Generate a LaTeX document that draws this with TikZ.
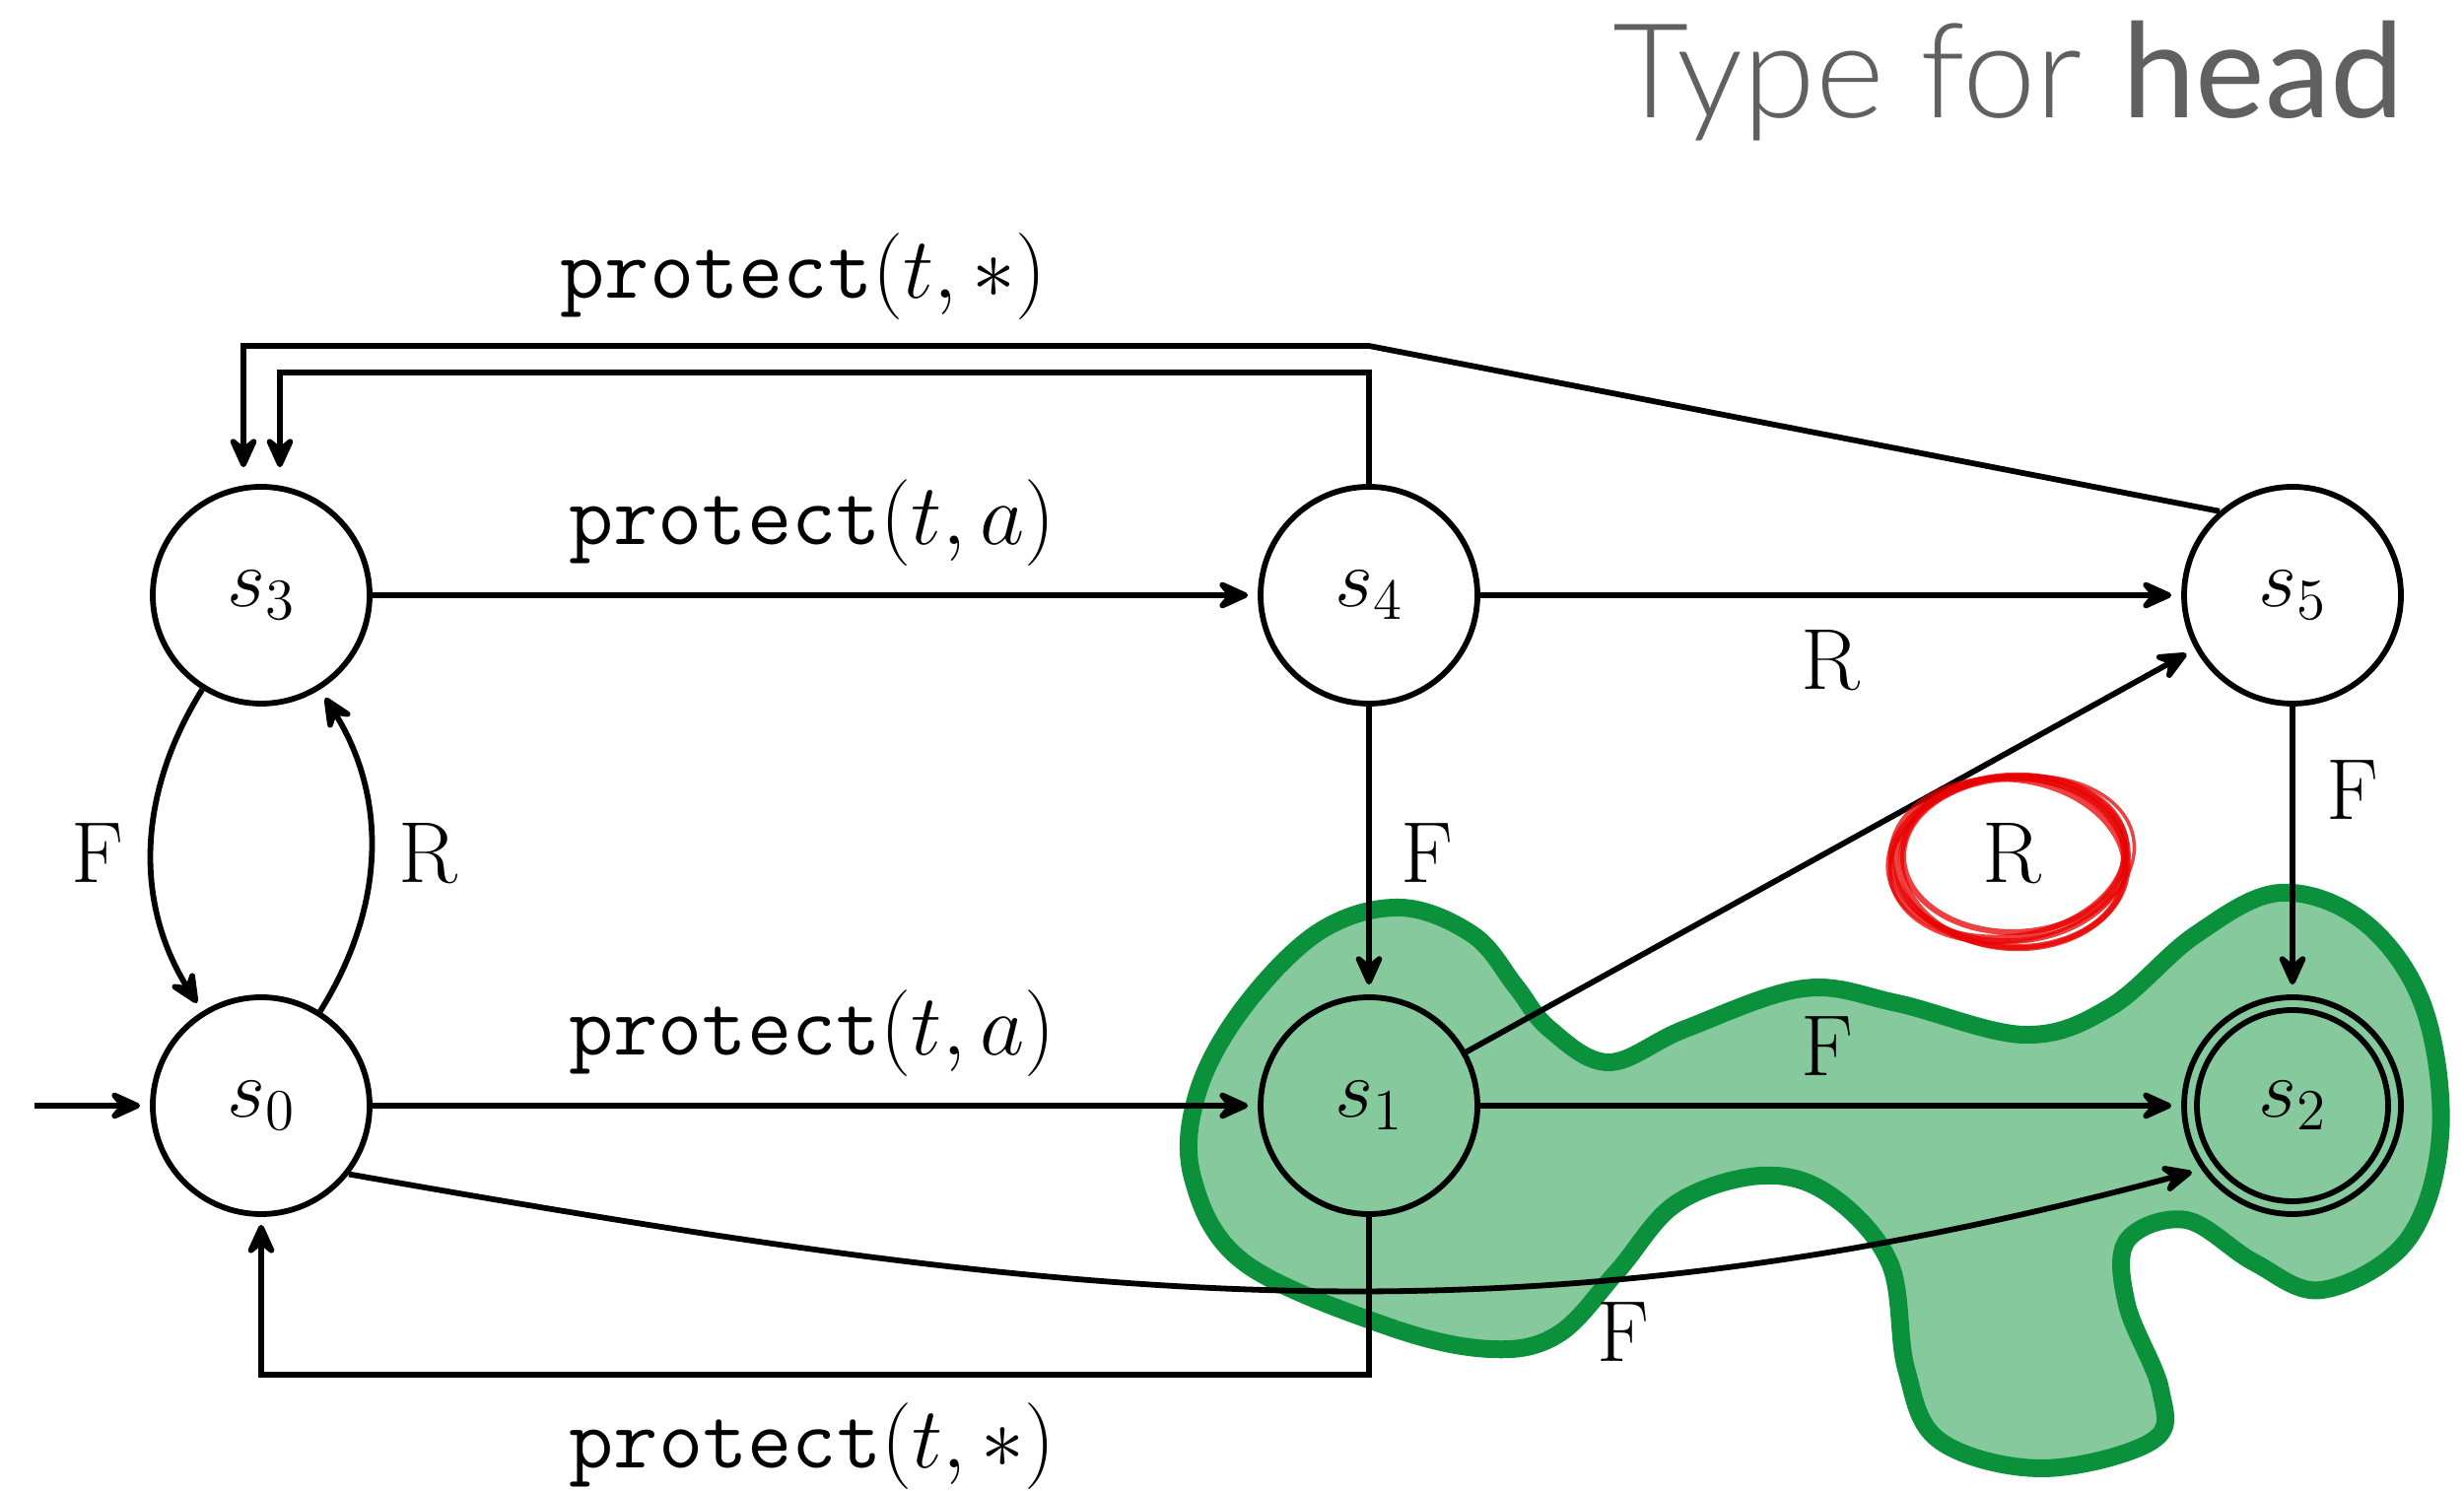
\RequirePackage{fix-cm}
\documentclass[tikz,border=0pt]{standalone}
\usepackage{fontspec}
\usetikzlibrary{arrows.meta,calc}
\newfontfamily\tlight{Lato Light}
\newfontfamily\tbold{Lato}
\definecolor{gfill}{RGB}{133,201,156}
\definecolor{gline}{RGB}{11,145,60}
\definecolor{redc}{RGB}{232,0,0}
\definecolor{tgray}{RGB}{96,96,96}
\begin{document}
\begin{tikzpicture}[
  state/.style={circle, draw, line width=0.058cm, minimum size=2.2cm, inner sep=0pt, font=\fontsize{24}{29}\selectfont},
  conn/.style={line width=0.058cm, -{Stealth[length=0.4cm,width=0.36cm,inset=0.15cm,round]}, shorten >=0.1cm},
  lbl/.style={font=\fontsize{25}{30}\selectfont, inner sep=0pt},
  redring/.style={draw=redc, line width=0.06cm, opacity=0.75},
]
\useasboundingbox (0,0) rectangle (25,15.13);

% title
\node[anchor=base east, text=tgray, inner sep=0pt, font=\fontsize{38}{44}\selectfont] (title) at (24.40,13.93) {{\tlight Type for} {\tbold head}};

% green blob
\filldraw[fill=gfill, draw=gline, line width=0.18cm] plot[smooth cycle, tension=0.6] coordinates {
 (14.21,5.92) (14.95,5.64) (15.38,5.12) (15.72,4.69) (16.32,4.35) (17.10,4.69) (18.30,5.10)
 (19.25,4.95) (20.54,4.63) (21.41,4.91) (22.27,5.64) (23.13,6.07) (23.99,5.77) (24.59,4.91)
 (24.76,3.61) (24.42,2.54) (23.56,2.04) (22.87,2.32) (22.18,2.75) (21.58,2.54) (21.58,1.89)
 (21.92,1.03) (21.84,0.51) (20.72,0.23) (19.68,0.51) (19.34,1.24) (19.17,2.32) (18.56,3.01)
 (17.87,3.20) (17.01,2.92) (16.41,2.23) (15.81,1.59) (15.12,1.44) (14.08,1.67) (12.62,2.32)
 (12.10,3.18) (12.15,4.04) (12.62,4.91) (13.39,5.68)};

% states
\node[state] (s3) at (2.65,9.09) {$s_3$};
\node[state] (s4) at (13.89,9.09) {$s_4$};
\node[state] (s5) at (23.26,9.09) {$s_5$};
\node[state] (s0) at (2.65,3.91) {$s_0$};
\node[state] (s1) at (13.89,3.91) {$s_1$};
\node[state] (s2) at (23.26,3.91) {$s_2$};
\draw[line width=0.058cm] (s2.center) circle (0.97cm);

% helper coordinates
\coordinate (init) at (0.35,3.91);
\coordinate (k1) at (13.89,11.62);
\coordinate (k2) at (2.47,11.62);
\coordinate (k3) at (2.84,11.35);
\coordinate (k4) at (2.65,1.18);

% edges
\draw[conn] (init) -- (s0);
\draw[conn] (s3) -- (s4);
\draw[conn] (s4) -- (s5);
\draw[conn] (s0) -- (s1);
\draw[conn] (s1) -- (s2);
\draw[conn] (s4) -- (s1);
\draw[conn] (s5) -- (s2);
\draw[conn] (s1) -- (s5);
\draw[conn] (s3) to[bend right=32] (s0);
\draw[conn] (s0) to[bend right=32] (s3);
\draw[conn] (s0.-38) to[out=-10,in=-165] (s2.-145);
\draw[conn, shorten >=0.17cm] (s4.north) |- (k3) -- (k3 |- s3.north);
\draw[conn, shorten >=0.17cm] (s5.131) -- (k1) -- (k2) -- (k2 |- s3.north);
\draw[conn, shorten >=0.08cm] (s1.south) |- (k4) -- (s0.south);

% labels
\node[lbl] (l1) at (8.15,12.32) {\texttt{protect}$(t,*)$};
\node[lbl] (l2) at (8.24,9.82) {\texttt{protect}$(t,a)$};
\node[lbl] (l3) at (8.24,4.64) {\texttt{protect}$(t,a)$};
\node[lbl] (l4) at (8.24,0.45) {\texttt{protect}$(t,*)$};
\node[lbl] (l5) at (18.57,8.43) {R};
\node[lbl] (l6) at (14.48,6.47) {F};
\node[lbl] (l7) at (23.87,7.11) {F};
\node[lbl] (l8) at (18.54,4.51) {F};
\node[lbl] (l9) at (0.99,6.47) {F};
\node[lbl] (l10) at (4.34,6.47) {R};
\node[lbl] (l11) at (16.47,1.61) {F};
\node[lbl] (l12) at (20.41,6.47) {R};

% red hand-drawn ring
\coordinate (rc) at (20.41,6.42);
\draw[redring, rotate around={4:(rc)}] (rc) ellipse (1.18cm and 0.84cm);
\draw[redring, rotate around={-3:(rc)}] ($(rc)+(0.03,-0.04)$) ellipse (1.15cm and 0.87cm);
\draw[redring, rotate around={8:(rc)}] ($(rc)+(-0.04,0.02)$) ellipse (1.21cm and 0.81cm);
\draw[redring, rotate around={1:(rc)}] ($(rc)+(0.02,0.03)$) ellipse (1.12cm and 0.78cm);
\draw[redring, rotate around={-6:(rc)}] ($(rc)+(-0.03,-0.05)$) ellipse (1.19cm and 0.85cm);
\draw[redring, line width=0.035cm, rotate around={10:(rc)}] ($(rc)+(0.0,-0.01)$) ellipse (1.25cm and 0.83cm);
\end{tikzpicture}
\end{document}
